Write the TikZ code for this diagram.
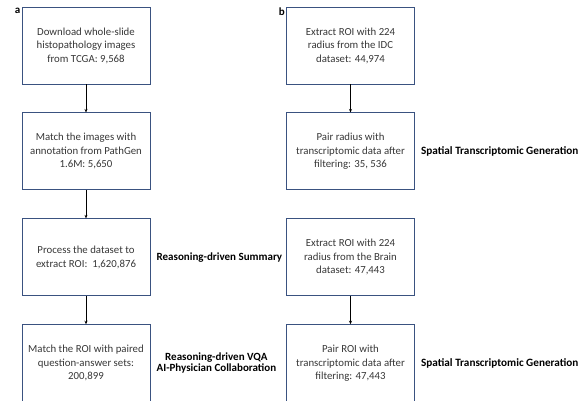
\documentclass[tikz,border=0pt]{standalone}
\usepackage{fontspec}
\setmainfont{Carlito}
\usepackage{tikz}
\usetikzlibrary{positioning,arrows.meta}
\definecolor{boxColor}{RGB}{58,82,128}
\definecolor{boxText}{RGB}{55,55,55}
\tikzstyle{flowChart} = [x = 1pt, y = -1pt, node distance = 28pt]
\tikzstyle{stepBox} = [draw=boxColor, line width=0.9pt, rectangle, minimum width=128pt, minimum height=77pt, align=center, text=boxText, font=\fontsize{10.8}{13.5}\selectfont]
\tikzstyle{stepArrow} = [draw=black, line width=0.8pt, -{Stealth[length=3.5pt,width=3pt]}]
\tikzstyle{taskText} = [font=\fontsize{11}{11}\selectfont\bfseries, align=center, text=black, inner sep=0pt]
\tikzstyle{panelLabel} = [font=\fontsize{11}{11}\selectfont\bfseries, inner sep=1pt]
\begin{document}
\begin{tikzpicture}[flowChart]
  \useasboundingbox (0,0) rectangle (583,400);
  % panel a
  \node [stepBox] (downloadBox) at (86,45.5) {Download whole-slide\\histopathology images\\from TCGA: 9,568};
  \node [stepBox, below = of downloadBox] (matchBox) {Match the images with\\annotation from PathGen\\1.6M: 5,650};
  \node [stepBox, below = of matchBox] (roiBox) {Process the dataset to\\extract ROI:\ \ 1,620,876};
  \node [stepBox, below = of roiBox] (vqaBox) {Match the ROI with paired\\question-answer sets:\\200,899};
  \draw [stepArrow] (downloadBox) -- (matchBox);
  \draw [stepArrow] (matchBox) -- (roiBox);
  \draw [stepArrow] (roiBox) -- (vqaBox);
  \node [taskText, right = 6pt of roiBox] (summaryText) {Reasoning-driven Summary};
  \node [taskText, right = 6pt of vqaBox] (vqaText) {Reasoning-driven VQA\\AI-Physician Collaboration};
  \node [panelLabel, anchor = north east] (labelA) at (downloadBox.north west) {a};
  % panel b
  \node [stepBox] (idcBox) at (350.5,45.5) {Extract ROI with 224\\radius from the IDC\\dataset: 44,974};
  \node [stepBox, below = of idcBox] (idcPairBox) {Pair radius with\\transcriptomic data after\\filtering: 35, 536};
  \node [stepBox, below = of idcPairBox] (brainBox) {Extract ROI with 224\\radius from the Brain\\dataset: 47,443};
  \node [stepBox, below = of brainBox] (brainPairBox) {Pair ROI with\\transcriptomic data after\\filtering: 47,443};
  \draw [stepArrow] (idcBox) -- (idcPairBox);
  \draw [stepArrow] (brainBox) -- (brainPairBox);
  \node [taskText, font=\fontsize{11.2}{12}\selectfont\bfseries, right = 6pt of idcPairBox] (idcText) {Spatial Transcriptomic Generation};
  \node [taskText, font=\fontsize{11.2}{12}\selectfont\bfseries, right = 6pt of brainPairBox] (brainText) {Spatial Transcriptomic Generation};
  \node [panelLabel, anchor = north east] (labelB) at (idcBox.north west) {b};
\end{tikzpicture}
\end{document}
